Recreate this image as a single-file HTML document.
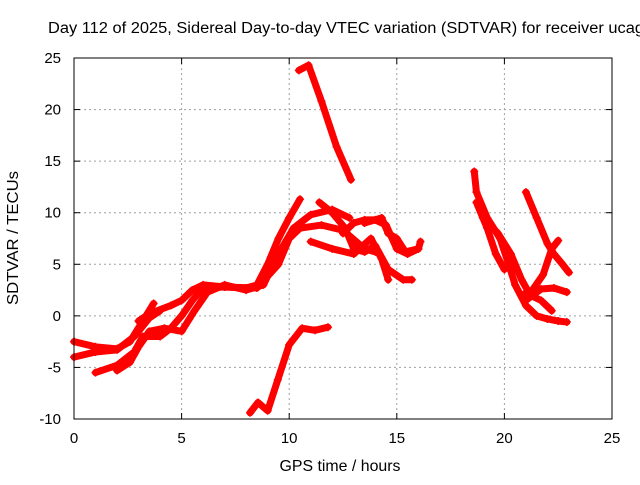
<!DOCTYPE html>
<html><head><meta charset="utf-8"><style>
html,body{margin:0;padding:0;background:#fff;}
svg text{font-family:"Liberation Sans",sans-serif;font-size:15px;fill:#000;}
</style></head><body>
<svg id="chart" width="640" height="480" viewBox="0 0 640 480">
<text x="48" y="33" style="font-size:15.5px" textLength="596" lengthAdjust="spacingAndGlyphs">Day 112 of 2025, Sidereal Day-to-day VTEC variation (SDTVAR) for receiver ucag</text>
<g id="grid"></g><g id="series"></g><g id="axes"></g>
<text x="340" y="471" text-anchor="middle" style="font-size:16px" textLength="121" lengthAdjust="spacingAndGlyphs">GPS time / hours</text>
<text transform="translate(18,238) rotate(-90)" text-anchor="middle" style="font-size:16px" textLength="134" lengthAdjust="spacingAndGlyphs">SDTVAR / TECUs</text>
</svg>
<script>
const xTicks=[0,5,10,15,20,25];
const yTicks=[-10,-5,0,5,10,15,20,25];
const trace1=[[10.45,23.8],[10.9,24.3],[11.5,20.8],[12.2,16.4],[12.87,13.2]];
const trace2=[[8.18,-9.4],[8.55,-8.4],[9.0,-9.2],[9.47,-6.2],[10.0,-2.8],[10.6,-1.2],[11.2,-1.4],[11.8,-1.1]];
const trace3=[[0,-2.5],[1,-3],[2,-3.2],[2.6,-2.5],[3.2,-0.5],[3.7,1.2]];
const trace4=[[0,-4],[1,-3.5],[2,-3.3],[2.8,-2.0],[3.5,-0.2],[4.0,0.5]];
const trace5=[[1.0,-5.5],[2.0,-4.8],[2.8,-3.5],[3.2,-2],[4,-2],[4.5,-1.2],[5,0],[5.5,1.5],[6,2.7],[7,2.8],[8,2.7],[8.5,3.0],[9,5],[9.5,7.5],[10,9.5],[10.5,11.3]];
const trace6=[[2.0,-5.3],[2.6,-4.5],[3,-3],[3.5,-1.5],[4.2,-1.2],[5,-1.5],[5.6,0.5],[6.2,2.3],[7,3],[8,2.5],[8.8,3],[9.5,6],[10.2,8.5],[11,9.8],[12,10.3],[12.8,9.5]];
const trace7=[[3,-0.5],[3.5,0.2],[4.5,1.0],[5,1.5],[5.5,2.5],[6,3],[7,2.8],[8.5,2.7],[9.5,5],[10,7.5],[10.5,8.5],[11.5,8.8],[12.5,8.3],[13.5,6.5],[14,6.2]];
const trace8=[[11.4,11],[12.0,10.0],[12.6,8.5],[13.0,6.5],[13.5,6.2],[14.0,6.8],[14.6,4.5],[15.3,3.5],[15.7,3.5]];
const trace9=[[11,7.2],[12,6.5],[13,6],[13.8,7.5],[14.3,5.5],[14.6,3.5]];
const trace10=[[12.5,8],[13,9],[13.5,9.3],[14,9.3],[14.5,8.8],[15,6.5],[15.5,6],[16,6.5]];
const trace11=[[13.5,9],[14.3,9.5],[14.6,8],[15,7.5],[15.4,6.2],[16.0,6.5],[16.1,7.2]];
const trace12=[[18.6,14],[18.7,12],[19.2,9.5],[19.8,7.5],[20.2,5],[20.5,3],[21,1.0],[21.5,0],[22,-0.3],[22.5,-0.5],[22.9,-0.6]];
const trace13=[[18.7,11],[19.2,8.5],[19.6,6],[20,4.5]];
const trace14=[[19,9.5],[19.7,8],[20.3,6],[20.8,3.5],[21.2,2],[21.7,1.5],[22.2,0.5]];
const trace15=[[21,1.5],[21.7,2.6],[22.3,2.7],[22.9,2.3]];
const trace16=[[21,12],[21.5,9.5],[22,7],[22.3,6],[22.7,5],[23,4.2]];
const trace17=[[20.8,2],[21.3,2.5],[21.8,4],[22.2,6.5],[22.5,7.3]];
const traces=[trace1,trace2,trace3,trace4,trace5,trace6,trace7,trace8,trace9,trace10,trace11,trace12,trace13,trace14,trace15,trace16,trace17];

const X0=74,X1=612,Y0=419,Y1=58;
function xs(v){return X0+(v-0)/(25-0)*(X1-X0);}
function ys(v){return Y0-(v+10)/(35)*(Y0-Y1);}
const NS='http://www.w3.org/2000/svg';
function mk(t,a,p){const e=document.createElementNS(NS,t);for(const k in a)e.setAttribute(k,a[k]);p.appendChild(e);return e;}
const grid=document.getElementById('grid'),axes=document.getElementById('axes'),ser=document.getElementById('series');
xTicks.forEach(t=>{
  const x=xs(t);
  if(t>0&&t<25){const g=mk('line',{x1:x,x2:x,y1:Y1,y2:Y0,stroke:'#a0a0a0','stroke-dasharray':'2,3'},grid);
  
  }
  mk('line',{x1:x,x2:x,y1:Y0,y2:Y0-6,stroke:'#000'},axes);
  mk('line',{x1:x,x2:x,y1:Y1,y2:Y1+6,stroke:'#000'},axes);
  const l=mk('text',{x:x,y:443,'text-anchor':'middle'},axes);l.textContent=t;
  
  
});
yTicks.forEach(t=>{
  const y=ys(t);
  if(t>-10&&t<25){const g=mk('line',{x1:X0,x2:X1,y1:y,y2:y,stroke:'#a0a0a0','stroke-dasharray':'2,3'},grid);
  
  }
  mk('line',{x1:X0,x2:X0+6,y1:y,y2:y,stroke:'#000'},axes);
  mk('line',{x1:X1,x2:X1-6,y1:y,y2:y,stroke:'#000'},axes);
  const l=mk('text',{x:61,y:y+5,'text-anchor':'end'},axes);l.textContent=t;
  
  
});
const fr=mk('rect',{x:X0,y:Y1,width:X1-X0,height:Y0-Y1,fill:'none',stroke:'#000','stroke-width':1},axes);


traces.forEach((tr,i)=>{
  const pts=tr.map(p=>xs(p[0])+','+ys(p[1])).join(' ');
  const pl=mk('polyline',{points:pts,fill:'none',stroke:'#ff0000','stroke-width':7,'stroke-linejoin':'round','stroke-linecap':'round'},ser);
  
  
  tr.forEach(p=>{
    const x=xs(p[0]),y=ys(p[1]);
    const m=mk('path',{d:`M${x-4},${y}H${x+4}M${x},${y-4}V${y+4}`,stroke:'#ff0000','stroke-width':1.5},ser);
    
    
  });
});
</script>
</body></html>
